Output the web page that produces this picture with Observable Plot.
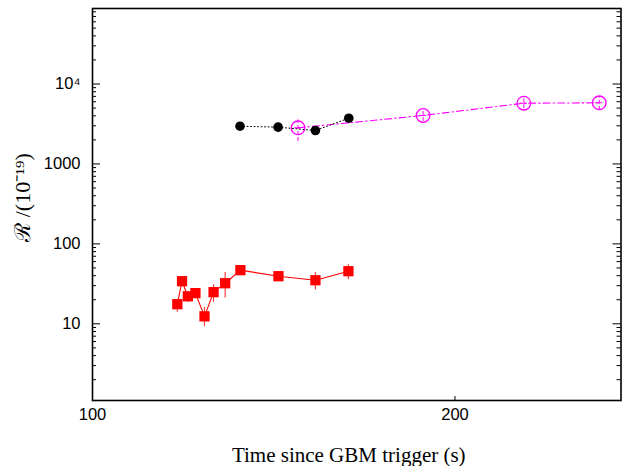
<!DOCTYPE html>
<html><head><meta charset="utf-8">
<script src="https://cdn.jsdelivr.net/npm/d3@7"></script>
<script src="https://cdn.jsdelivr.net/npm/@observablehq/plot@0.6"></script>
<style>body{margin:0;background:#fff}</style>
</head><body><div id="chart"></div>
<script>
// Red squares series
const redTime = [123.4, 124.7, 126.3, 128.4, 130.9, 133.4, 136.6, 140.8, 151.3, 161.5, 170.6];
const redR    = [17.6, 34.1, 22.1, 24.2, 12.4, 24.9, 32.2, 46.9, 39.4, 35.1, 45.5];
const redLo   = [14.0, 29.5, 18.5, 21.5, 9.2, 18.5, 21.1, 41.5, 35.0, 26.6, 35.8];
const redHi   = [20.0, 39.0, 25.0, 27.0, 16.0, 30.9, 43.8, 53.0, 44.0, 43.8, 54.7];
// Black filled circles series
const blackTime = [140.7, 151.2, 161.5, 170.7];
const blackR    = [2966, 2884, 2620, 3733];
// Magenta open circles series
const magTime = [156.7, 191.2, 219.0, 239.8];
const magR    = [2831, 4036, 5754, 5821];
const magLo   = [1910, 3400, 4900, 4700];
const magHi   = [3565, 4800, 6700, 6900];
const magTLo  = [155.7, 190.2, 218.0, 238.8];
const magTHi  = [157.7, 192.2, 220.0, 240.8];
// Axis ticks
const xTickLabels = [100, 200];
const yMajor = [10, 100, 1000, 10000];
const yMinor = [2,3,4,5,6,7,8,9,20,30,40,50,60,70,80,90,200,300,400,500,600,700,800,900,
                2000,3000,4000,5000,6000,7000,8000,9000,20000,30000,40000,50000,60000,70000,80000];
const yLabel = "ℛ /(10⁻¹⁹)";
const xLabel = "Time since GBM trigger (s)";

const red = redTime.map((t,i)=>({t, r: redR[i], lo: redLo[i], hi: redHi[i]}));
const black = blackTime.map((t,i)=>({t, r: blackR[i]}));
const mag = magTime.map((t,i)=>({t, r: magR[i], lo: magLo[i], hi: magHi[i], tlo: magTLo[i], thi: magTHi[i]}));

const width = 623, height = 466;
const mL = 92, mR = 2.5, mT = 8, mB = 66;
const W = width - mL - mR, H = height - mT - mB;
const supers = {"0":"⁰","1":"¹","2":"²","3":"³","4":"⁴","5":"⁵","6":"⁶","7":"⁷","8":"⁸","9":"⁹"};
const fmtY = d => d >= 10000 ? "10" + String(Math.round(Math.log10(d))).split("").map(c=>supers[c]).join("") : String(d);
const serif = "Liberation Serif, Times New Roman, serif";

const chart = Plot.plot({
  width, height,
  marginLeft: mL, marginRight: mR, marginTop: mT, marginBottom: mB,
  style: {fontFamily: "Liberation Sans, Arial, sans-serif", fontSize: "16.5px", color: "black", background: "white"},
  x: {type: "linear", domain: [100, 245.8]},
  y: {type: "log", domain: [1.098, 88030]},
  marks: [
    // inward ticks
    Plot.tickY(yMajor, {y: d=>d, insetRight: W - 8, stroke: "black", strokeWidth: 1}),
    Plot.tickY(yMinor, {y: d=>d, insetRight: W - 4, stroke: "black", strokeWidth: 1}),
    Plot.tickY(yMajor, {y: d=>d, insetLeft: W - 8, stroke: "black", strokeWidth: 1}),
    Plot.tickY(yMinor, {y: d=>d, insetLeft: W - 4, stroke: "black", strokeWidth: 1}),
    Plot.tickX(xTickLabels, {x: d=>d, insetTop: H - 4, stroke: "black", strokeWidth: 1}),
    Plot.axisY({ticks: yMajor, tickSize: 0, tickPadding: 12, tickFormat: fmtY, label: null}),
    Plot.axisX({ticks: xTickLabels, tickSize: 0, tickPadding: 8, tickFormat: d=>String(d), label: null}),
    // red series
    Plot.ruleX(red, {x: "t", y1: "lo", y2: "hi", stroke: "red", strokeWidth: 1.2, strokeOpacity: 0.75}),
    Plot.line(red, {x: "t", y: "r", stroke: "red", strokeWidth: 1.1}),
    Plot.dot(red, {x: "t", y: "r", symbol: "square", r: 5.8, fill: "red", stroke: "none"}),
    // magenta series
    Plot.line(mag, {x: "t", y: "r", stroke: "#ff00ff", strokeWidth: 1.1, strokeDasharray: "7,3,1.5,3"}),
    Plot.ruleX(mag, {x: "t", y1: "lo", y2: "hi", stroke: "#ff00ff", strokeWidth: 1, strokeDasharray: "4,2"}),
    Plot.ruleY(mag, {y: "r", x1: "tlo", x2: "thi", stroke: "#ff00ff", strokeWidth: 1}),
    Plot.dot(mag, {x: "t", y: "r", r: 6.8, fill: "none", stroke: "#ff00ff", strokeWidth: 1.3}),
    // black series
    Plot.line(black, {x: "t", y: "r", stroke: "black", strokeWidth: 1, strokeDasharray: "1,2.5"}),
    Plot.dot(black, {x: "t", y: "r", r: 4.8, fill: "black", stroke: "none"}),
    // frame
    Plot.frame({stroke: "black", strokeWidth: 1.6}),
    // axis titles
    Plot.text([yLabel], {text: d=>d, frameAnchor: "left", textAnchor: "middle", lineAnchor: "middle", rotate: -90, dx: -70, dy: -7, fontFamily: serif, fontSize: 22, fill: "black"}),
    Plot.text([xLabel], {text: d=>d, frameAnchor: "bottom", textAnchor: "middle", lineAnchor: "middle", dx: -8, dy: 55, fontFamily: serif, fontSize: 21, fill: "black"})
  ]
});
document.getElementById("chart").appendChild(chart);
</script>
</body></html>
